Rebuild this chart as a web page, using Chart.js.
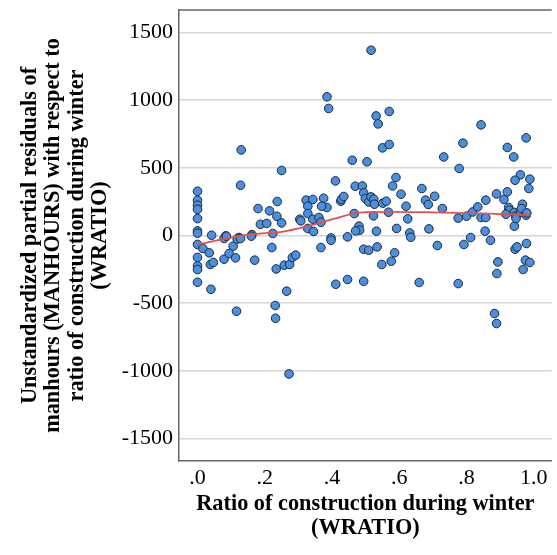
<!DOCTYPE html>
<html><head><meta charset="utf-8">
<script src="https://cdn.jsdelivr.net/npm/chart.js@4"></script>
<style>html,body{margin:0;padding:0;background:#fff}</style>
</head><body>
<canvas id="c" width="557" height="555"></canvas>
<script>
const wratio = [
0,0,0,0,0,0,0,0.042,0.084,0.13,0.128,0.123,0.162,0.18,0.187,0.206,0.214,0.224,0.236,0.237,
0.25,0.25,0.304,0.307,0.323,0.328,0.328,0.343,0.343,0.328,0.345,0.361,0.367,0.375,0.385,0.369,0.385,0.39,0.41,0.397,
0.426,0.428,0.435,0.46,0.466,0.469,0.48,0.482,0.47,0.446,0.49,0.504,0.516,0.531,0.537,0.57,0.55,0.57,0.494,0.499,
0.509,0.516,0.524,0.526,0.58,0.59,0.605,0.551,0.561,0.568,0.523,0.62,0.625,0.532,0.592,0.631,0.634,0.667,0.678,0.686,
0.705,0.688,0.728,0.732,0.778,0.789,0.775,0.8,0.818,0.833,0.843,0.857,0.843,0.857,0.855,0.812,0.871,0.889,0.911,0.921,
0.921,0.94,0.977,0.925,0.927,0.942,0.946,0.942,0.917,0.96,0.944,0.988,0.985,0.966,0.96,0.963,0.977,0,0.016,0,
0,0,0,0.035,0.038,0.047,0.04,0.079,0.079,0.086,0.094,0.106,0.113,0.116,0.118,0.128,0.17,0.221,0.234,0.231,
0.232,0.258,0.274,0.282,0.292,0.265,0.272,0.367,0.397,0.411,0.446,0.494,0.494,0.509,0.534,0.586,0.576,0.548,0.659,0.713,
0.775,0.792,0.893,0.89,0.883,0.889,0.944,0.95,0.978,0.975,0.988,0.968,0.16,0.947,0.979
];
const residuals = [
327,261,224,194,125,34,17,2,-3,632,371,-15,7,199,83,89,182,15,142,251,
480,93,120,108,261,216,162,266,120,52,30,133,98,275,207,216,1024,938,403,-18,
253,268,288,556,162,364,69,39,34,-10,366,544,1368,883,824,916,647,672,315,273,
248,285,268,231,366,428,305,239,253,172,145,216,123,32,52,19,-13,347,261,229,
290,49,199,580,495,682,128,143,174,211,817,261,133,133,32,-15,-35,307,266,322,
650,580,721,207,187,170,142,69,157,448,408,416,347,231,170,199,150,-66,-96,-162,
-224,-251,-345,-128,-214,-199,-397,-175,-22,-5,-133,-79,-165,-559,-27,-22,-182,-89,-247,-517,
-611,-219,-214,-162,-145,-411,-1022,-89,-35,-360,-325,-338,-101,-109,-84,-128,-190,-214,-347,-74,
-355,-66,-195,-281,-576,-650,-101,-84,-59,-182,-199,-251,-5,126,167
];
const loessX = [0,0.07,0.14,0.21,0.25,0.32,0.41,0.46,0.5,0.57,0.67,0.77,0.87,0.99];
const loessY = [-66,-30,2,19,27,64,126,160,172,175,172,167,162,150];
const yTicks = [-1500,-1000,-500,0,500,1000,1500];
const yTickLabels = ['-1500','-1000','-500','0','500','1000','1500'];
const xTicks = [0,0.2,0.4,0.6,0.8,1.0];
const xTickLabels = ['.0','.2','.4','.6','.8','1.0'];
const yTitle = ['Unstandardized partial residuals of','manhours (MANHOURS) with respect to','ratio of construction during winter','(WRATIO)'];
const xTitle = ['Ratio of construction during winter','(WRATIO)'];

const points = wratio.map((x,i)=>({x:x,y:residuals[i]}));
const curve = loessX.map((x,i)=>({x:x,y:loessY[i]}));

const FONT = '"Liberation Serif","Times New Roman",serif';
const frameColor = '#666666';

const topBorder = {
  id:'topBorder',
  afterDatasetsDraw(chart){
    const {ctx, chartArea:a} = chart;
    ctx.save();
    ctx.strokeStyle = frameColor; ctx.lineWidth = 1.5;
    ctx.beginPath(); ctx.moveTo(a.left, a.top); ctx.lineTo(a.right, a.top); ctx.stroke();
    ctx.restore();
  }
};

new Chart(document.getElementById('c'), {
  type:'scatter',
  data:{datasets:[
    {label:'fit', data:curve, showLine:true, pointRadius:0, borderColor:'#e8504d', borderWidth:1.8,
     cubicInterpolationMode:'monotone', fill:false, order:0},
    {label:'pts', data:points, pointRadius:4.3, pointHoverRadius:4.3, backgroundColor:'#4a8fe0',
     borderColor:'#1c2836', borderWidth:1, order:1}
  ]},
  options:{
    responsive:false, animation:false, devicePixelRatio:1,
    layout:{padding:{top:10,left:0,right:0,bottom:0}},
    plugins:{legend:{display:false}, tooltip:{enabled:false}},
    scales:{
      x:{type:'linear', min:-0.055, max:1.053,
        afterBuildTicks:s=>{s.ticks = xTicks.map(v=>({value:v}));},
        afterFit:s=>{s.height = 94; s.paddingLeft = 0; s.paddingRight = 0;},
        ticks:{callback:(v)=>{const i=xTicks.indexOf(v);return i>=0?xTickLabels[i]:'';}, font:{family:FONT,size:22}, color:'#000', padding:4, maxRotation:0, autoSkip:false},
        grid:{display:false, drawTicks:false},
        border:{display:true,color:frameColor,width:1.5},
        title:{display:true, text:xTitle, color:'#000', font:{family:FONT,size:22.3,weight:'bold',lineHeight:1.05}, padding:{top:0,bottom:15.5}}
      },
      y:{type:'linear', min:-1665, max:1665,
        afterBuildTicks:s=>{s.ticks = yTicks.map(v=>({value:v}));},
        afterFit:s=>{s.width = 179; s.paddingTop = 0; s.paddingBottom = 0;},
        ticks:{callback:(v)=>{const i=yTicks.indexOf(v);return i>=0?yTickLabels[i]:'';}, font:{family:FONT,size:22}, color:'#000', padding:6, autoSkip:false},
        grid:{display:true, color:'#d6d6d6', lineWidth:1.5, drawTicks:false},
        border:{display:true,color:frameColor,width:1.5},
        title:{display:true, text:yTitle, color:'#000', font:{family:FONT,size:22.3,weight:'bold',lineHeight:1.05}, padding:{top:18.5,bottom:0}}
      }
    }
  },
  plugins:[topBorder]
});
</script>
</body></html>
